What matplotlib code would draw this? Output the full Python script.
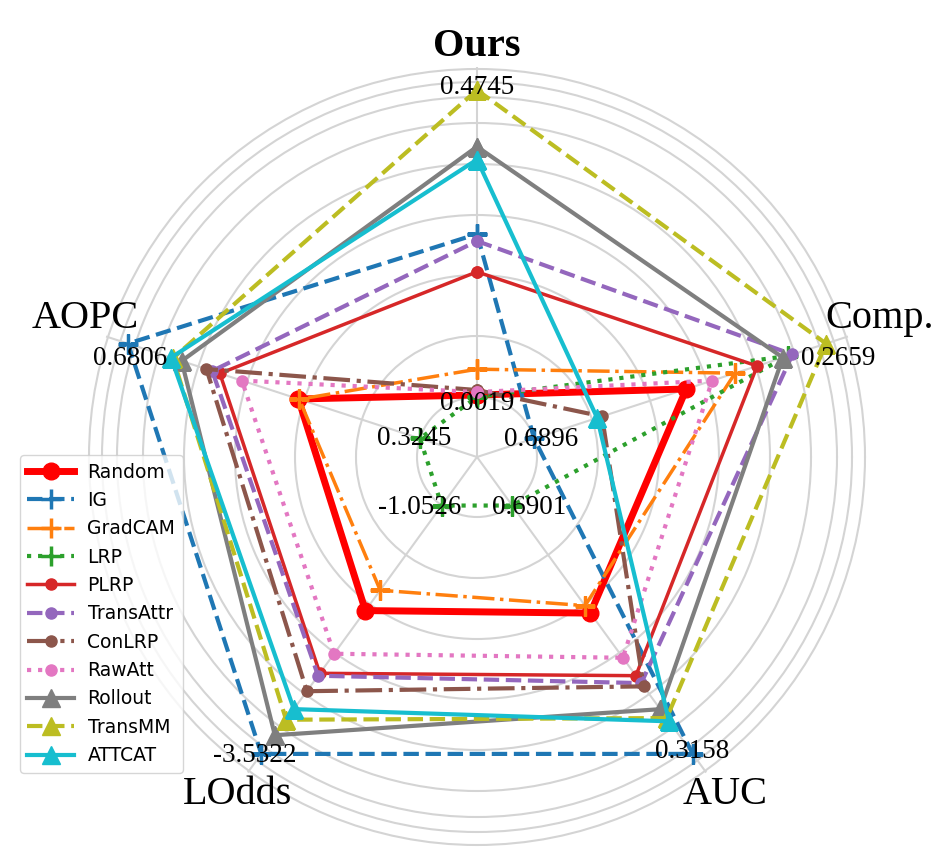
import numpy as np
import matplotlib
matplotlib.use("Agg")
import matplotlib.pyplot as plt

# axes order: Ours, Comp., AUC, LOdds, AOPC
metrics = ["Ours", "Comp.", "AUC", "LOdds", "AOPC"]
inner_vals = [0.0019, 0.6896, 0.6901, -1.0526, 0.3245]   # value at inner ring (worst)
outer_vals = [0.4745, 0.2659, 0.3158, -3.5322, 0.6806]   # value at outer ring (best)

methods = ["Random", "IG", "GradCAM", "LRP", "PLRP", "TransAttr",
           "ConLRP", "RawAtt", "Rollout", "TransMM", "ATTCAT"]
random_v = [0.0050, 0.4687, 0.5280, -2.1013, 0.4727]
ig_v = [0.2527, 0.6896, 0.3158, -3.5322, 0.6806]
gradcam_v = [0.0447, 0.3979, 0.5392, -1.8981, 0.4717]
lrp_v = [0.0019, 0.3214, 0.6901, -1.0526, 0.3245]
plrp_v = [0.1946, 0.3659, 0.4337, -2.7274, 0.5685]
transattr_v = [0.2420, 0.3146, 0.4225, -2.7517, 0.5778]
conlrp_v = [0.0126, 0.5910, 0.4176, -2.9062, 0.5849]
rawatt_v = [0.0095, 0.4312, 0.4607, -2.5322, 0.5417]
rollout_v = [0.3873, 0.3285, 0.3832, -3.3457, 0.6152]
transmm_v = [0.4745, 0.2659, 0.3698, -3.1908, 0.6257]
attcat_v = [0.3674, 0.5980, 0.3649, -3.0850, 0.6280]
all_vals = [random_v, ig_v, gradcam_v, lrp_v, plrp_v, transattr_v,
            conlrp_v, rawatt_v, rollout_v, transmm_v, attcat_v]

styles = [
    dict(color="red", ls="-", lw=5, marker="o", ms=12),
    dict(color="tab:blue", ls="--", lw=3, marker="+", ms=14, mew=2.5),
    dict(color="tab:orange", ls="-.", lw=2.5, marker="+", ms=14, mew=2.5),
    dict(color="tab:green", ls=":", lw=3, marker="+", ms=14, mew=2.5),
    dict(color="tab:red", ls="-", lw=2.5, marker="o", ms=8),
    dict(color="tab:purple", ls="--", lw=3, marker="o", ms=8),
    dict(color="tab:brown", ls="-.", lw=3, marker="o", ms=8),
    dict(color="tab:pink", ls=":", lw=3, marker="o", ms=8),
    dict(color="tab:gray", ls="-", lw=3, marker="^", ms=13),
    dict(color="tab:olive", ls="--", lw=3, marker="^", ms=13),
    dict(color="tab:cyan", ls="-", lw=3, marker="^", ms=13),
]

R_IN = 60 / 367.0
R_MAX = 390 / 367.0
angles = np.pi / 2 - 2 * np.pi * np.arange(5) / 5


def scale(vals):
    out = []
    for v, lo, hi in zip(vals, inner_vals, outer_vals):
        out.append(R_IN + (v - lo) / (hi - lo) * (1 - R_IN))
    return np.array(out)


serif = ["Liberation Serif", "DejaVu Serif"]

fig = plt.figure(figsize=(9.53, 8.58), dpi=100)
ax = fig.add_axes([(477 - 390) / 953, (858 - 457 - 390) / 858, 780 / 953, 780 / 858], polar=True)
ax.set_ylim(0, R_MAX)
ax.spines["polar"].set_visible(False)
ax.set_thetagrids(np.degrees(angles) % 360, labels=[""] * 5)
ax.set_rgrids(np.array([60, 121, 182, 242, 293, 334, 360, 375, 388]) / 367.0, labels=[])
ax.grid(color="#d4d4d4", lw=1.5)

th = np.append(angles, angles[0])
for name, vals, st in zip(methods, all_vals, styles):
    r = scale(vals)
    ax.plot(th, np.append(r, r[0]), label=name, **st)

# axis titles (angle offset in degrees, radius in px)
title_pos = [(0, 410), (1, 426), (0.3, 419), (0.7, 414), (-1.5, 416)]
for i, m in enumerate(metrics):
    da, rp = title_pos[i]
    ax.text(angles[i] + np.radians(da), rp / 367.0, m, ha="center", va="center",
            fontsize=29, family=serif, fontweight="bold" if m == "Ours" else "normal")

# min / max value labels (angle offset in degrees, radius in px)
inner_pos = [(0, 54), (-3, 66), (10, 72), (-12.7, 76), (1.8, 65)]
outer_pos = [(0, 369), (-2.7, 374), (0.1, 365), (-0.7, 372), (2.2, 360)]
for i in range(5):
    da, rp = inner_pos[i]
    ax.text(angles[i] + np.radians(da), rp / 367.0, "%.4f" % inner_vals[i],
            ha="center", va="center", fontsize=19.5, family=serif)
    da, rp = outer_pos[i]
    ax.text(angles[i] + np.radians(da), rp / 367.0, "%.4f" % outer_vals[i],
            ha="center", va="center", fontsize=19.5, family=serif)

fig.legend(loc="upper left", bbox_to_anchor=(20 / 953, 1 - 455 / 858),
           borderaxespad=0, fontsize=13.5, handlelength=2.5, handletextpad=0.7)

fig.savefig("out.png", dpi=100)
